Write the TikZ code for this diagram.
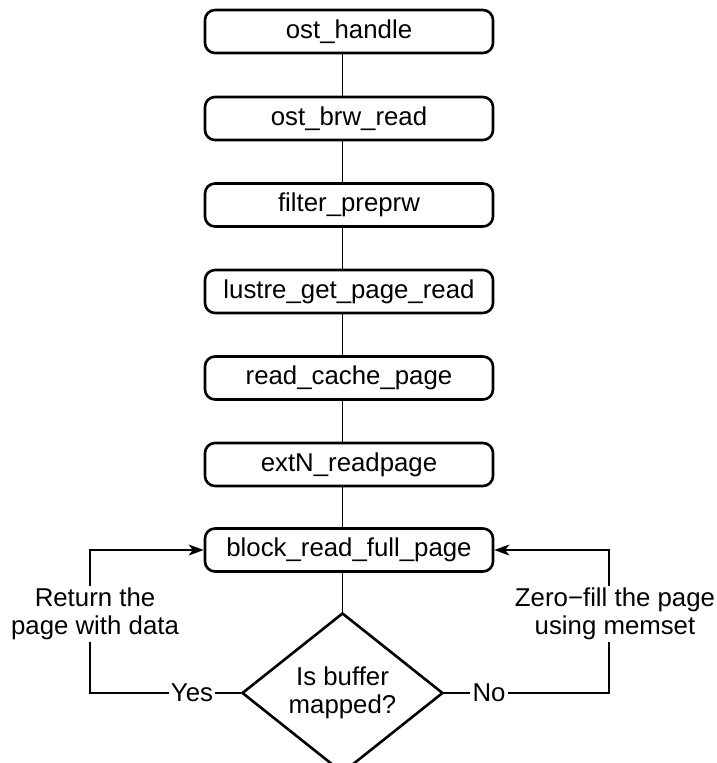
\documentclass[tikz,border=0pt]{standalone}
\usepackage{fontspec}
\setmainfont{Liberation Sans}
\usetikzlibrary{shapes.geometric,arrows.meta}
\begin{document}
\begin{tikzpicture}[x=1pt,y=-1pt,
  every node/.style={font=\fontsize{25.8}{28.5}\selectfont},
  fbox/.style={draw, line width=2.6pt, rounded corners=10pt, minimum width=288pt, minimum height=43pt, inner sep=0pt},
  conn/.style={line width=1.3pt},
  arr/.style={conn, -{Stealth[length=15pt,width=11pt,inset=4pt]}},
  lbl/.style={align=center, inner sep=2pt}]
\clip (0,0) rectangle (717,763);
\fill[white] (0,0) rectangle (717,763);
\node[fbox] (b1) at (349,31.5) {ost\_handle};
\node[fbox] (b2) at (349,118.5) {ost\_brw\_read};
\node[fbox] (b3) at (349,205) {filter\_preprw};
\node[fbox] (b4) at (349,291.5) {lustre\_get\_page\_read};
\node[fbox] (b5) at (349,378) {read\_cache\_page};
\node[fbox] (b6) at (349,464.5) {extN\_readpage};
\node[fbox] (b7) at (349,550) {block\_read\_full\_page};
\node[diamond, draw, line width=2.6pt, minimum width=201pt, minimum height=152pt, inner sep=0pt, align=center] (d) at (342.5,693) {Is buffer\\mapped?};
\node[lbl] (yes) at (192,693) {Yes};
\node[lbl] (no) at (489,693) {No};
\node[lbl] (ret) at (95,614) {Return the\\page with data};
\node[lbl] (zero) at (615,614) {Zero\char"2212 fill the page\\using memset};
\coordinate (lx) at (90,0);
\coordinate (rx) at (609,0);
\foreach \a/\b in {b1/b2,b2/b3,b3/b4,b4/b5,b5/b6,b6/b7} {
  \draw[conn] (\a.south -| d.north) -- (\b.north -| d.north);
}
\draw[conn] (b7.south -| d.north) -- (d.north);
\draw[conn] (d.west) -- (yes.east);
\draw[conn] (yes.west) -| (ret.south -| lx);
\draw[arr] (ret.north -| lx) |- (b7.west);
\draw[conn] (d.east) -- (no.west);
\draw[conn] (no.east) -| (zero.south -| rx);
\draw[arr] (zero.north -| rx) |- (b7.east);
\end{tikzpicture}
\end{document}
